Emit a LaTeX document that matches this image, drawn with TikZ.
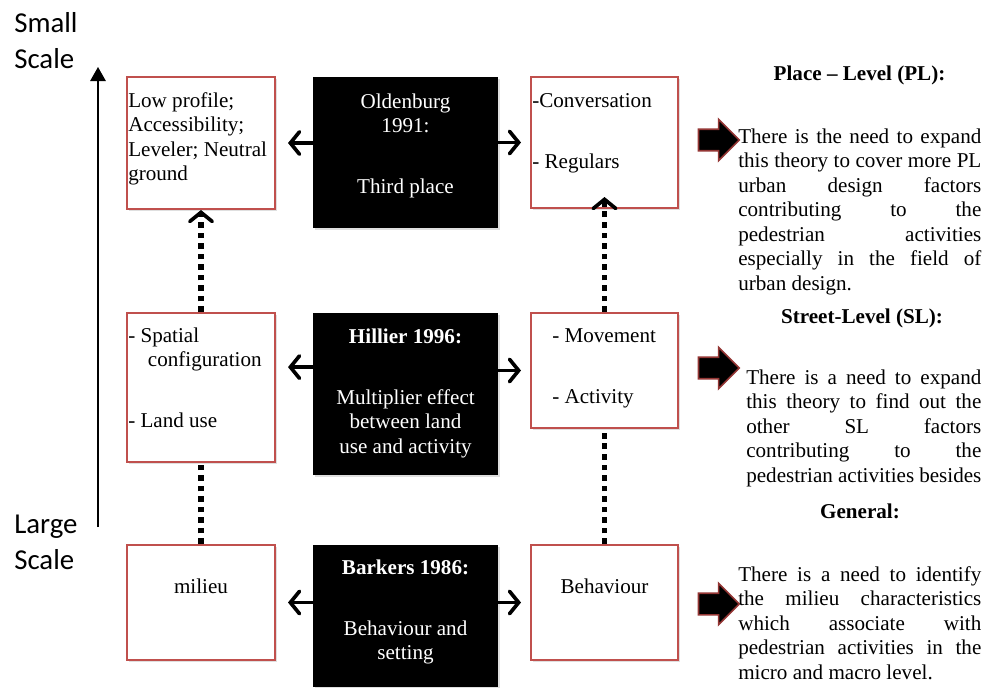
\documentclass[tikz,border=0pt]{standalone}
\usepackage{fontspec}
\setmainfont{Liberation Serif}
\newfontfamily\scalefamily{Carlito}
\usepackage{tikz}
\usetikzlibrary{arrows.meta, positioning, calc, shadows, shapes.arrows}
\definecolor{boxRed}{HTML}{C0504D}
\definecolor{arrowRed}{HTML}{943634}
\newcommand{\diagfont}{\fontsize{15}{17.4}\selectfont}
\newcommand{\scalelabelfont}{\scalefamily\fontsize{20.5}{25.6}\selectfont}
\hyphenpenalty=10000
\tolerance=9999

\begin{document}
\begin{tikzpicture}[x=0.025cm,y=-0.025cm,
    theory/.style={rectangle,draw=boxRed,line width=1.4pt,fill=white,inner sep=0pt,
                   drop shadow={shadow xshift=1.2pt,shadow yshift=-1.2pt,opacity=0.25}},
    author/.style={rectangle,fill=black,inner sep=0pt,minimum width=4.625cm,
                   drop shadow={shadow xshift=1.2pt,shadow yshift=-1.2pt,opacity=0.25}},
    boxtext/.style={inner sep=0pt,font=\diagfont,align=left},
    authortext/.style={inner sep=0pt,font=\diagfont,align=center,text=white,anchor=north},
    note/.style={inner sep=0pt,font=\diagfont,align=justify,anchor=north west},
    heading/.style={inner sep=0pt,font=\diagfont\bfseries},
    pointer/.style={single arrow,draw=arrowRed,fill=black,line width=1.1pt,
                    inner xsep=0pt,inner ysep=7.1pt,text height=0pt,text depth=0pt,
                    single arrow head extend=7.1pt,minimum height=29pt},
    sidearrow/.style={-{Straight Barb[length=6.5pt,width=16pt,line cap=round]},line width=2.6pt},
    dotline/.style={line width=4pt,dash pattern=on 4pt off 3.5pt},
    dotarrow/.style={dotline,-{Straight Barb[length=6.5pt,width=16pt,line width=2.6pt,line cap=round]}},
    scalearrow/.style={-{Triangle[length=10pt,width=11pt]},line width=1.2pt},
    scalelabel/.style={inner sep=0pt,font=\scalelabelfont,align=left,anchor=north west}
]
    \useasboundingbox (0,0) rectangle (984,687);

    % Scale axis
    \coordinate (scalebot) at (98,527);
    \coordinate (scaletop) at (98,67);
    \draw[scalearrow] (scalebot) -- (scaletop);
    \node[scalelabel] (small) at (14,7) {\strut Small\\Scale};
    \node[scalelabel] (large) at (14,508) {\strut Large\\Scale};

    % Place level
    \node[theory,minimum width=3.7cm,minimum height=3.3cm] (lowp) at (201,143) {};
    \node[author,minimum height=3.775cm] (old) at (405.5,152.5) {};
    \node[theory,minimum width=3.675cm,minimum height=3.275cm] (conv) at (604.5,142.5) {};

    % Street level
    \node[theory,minimum width=3.7cm,minimum height=3.725cm] (spat) at (201,387.5) {};
    \node[author,minimum height=4.05cm] (hill) at (405.5,394) {};
    \node[theory,minimum width=3.675cm,minimum height=2.875cm] (move) at (604.5,370.5) {};

    % General
    \node[theory,minimum width=3.7cm,minimum height=2.875cm] (mil) at (201,602.5) {};
    \node[author,minimum height=3.55cm] (bark) at (405.5,616) {};
    \node[theory,minimum width=3.675cm,minimum height=2.875cm] (beh) at (604.5,602.5) {};

    % Box texts
    \node[boxtext,anchor=north west] (lowp-txt) at ($(lowp.north west)+(2,14)$)
        {\strut Low profile;\\Accessibility;\\Leveler; Neutral\\ground};
    \node[boxtext,anchor=north west] (conv-txt) at ($(conv.north west)+(2,14)$)
        {\strut -Conversation\\[26pt]- Regulars};
    \node[boxtext,anchor=north west] (spat-txt) at ($(spat.north west)+(2,13)$)
        {\strut - Spatial\\\hspace*{14pt}configuration\\[26pt]- Land use};
    \node[boxtext,anchor=north west] (move-txt) at ($(move.north west)+(22,13)$)
        {\strut - Movement\\[26pt]- Activity};
    \node[boxtext,anchor=north] (mil-txt) at ($(mil.north)+(0,32)$) {\strut milieu};
    \node[boxtext,anchor=north] (beh-txt) at ($(beh.north)+(0,32)$) {\strut Behaviour};

    \node[authortext] (old-txt) at ($(old.north)+(0,14)$)
        {\strut Oldenburg\\1991:\\[26pt]Third place};
    \node[authortext] (hill-txt) at ($(hill.north)+(0,13)$)
        {\strut\textbf{Hillier 1996:}\\[26pt]Multiplier effect\\between land\\use and activity};
    \node[authortext] (bark-txt) at ($(bark.north)+(0,12)$)
        {\strut\textbf{Barkers 1986:}\\[26pt]Behaviour and\\setting};

    % Arrows
    \draw[sidearrow,shorten >=0.3cm] (old.west |- lowp.east) -- (lowp.east);
    \draw[sidearrow,shorten >=0.225cm] (old.east |- conv.west) -- (conv.west);
    \coordinate (spatin) at ([yshift=0.51cm]spat.east);
    \draw[sidearrow,shorten >=0.3cm] (hill.west |- spatin) -- (spatin);
    \draw[sidearrow,shorten >=0.225cm] (hill.east |- move.west) -- (move.west);
    \draw[sidearrow,shorten >=0.3cm] (bark.west |- mil.east) -- (mil.east);
    \draw[sidearrow,shorten >=0.225cm] (bark.east |- beh.west) -- (beh.west);

    \draw[dotarrow] (spat.north) -- (lowp.south);
    \draw[dotarrow,shorten >=-0.3cm] (move.north) -- (conv.south);
    \draw[dotline] (mil.north) -- (spat.south);
    \draw[dotline] (beh.north) -- (move.south);

    % Notes
    \node[heading] (pl-head) at (859.5,75) {Place -- Level (PL):};
    \node[pointer] (pl-ptr) at (713.5,140) {};
    \node[note,text width=6.075cm] (pl-note) at (738,126)
        {\strut There is the need to expand\linebreak this theory to cover more PL\linebreak
         urban design factors\linebreak contributing to the\linebreak
         pedestrian activities\linebreak especially in the field of\linebreak urban design.};

    \node[heading] (sl-head) at (862,318) {Street-Level (SL):};
    \node[pointer] (sl-ptr) at (713.5,368) {};
    \node[note,text width=5.875cm] (sl-note) at (746,367)
        {\strut There is a need to expand\linebreak this theory to find out the\linebreak
         other SL factors\linebreak contributing to the\linebreak
         pedestrian activities besides};

    \node[heading] (gen-head) at (860,511) {General:};
    \node[pointer] (gen-ptr) at (713.5,604) {};
    \node[note,text width=6.075cm] (gen-note) at (738,564)
        {\strut There is a need to identify\linebreak the milieu characteristics\linebreak
         which associate with\linebreak pedestrian activities in the\linebreak
         micro and macro level.};
\end{tikzpicture}
\end{document}
